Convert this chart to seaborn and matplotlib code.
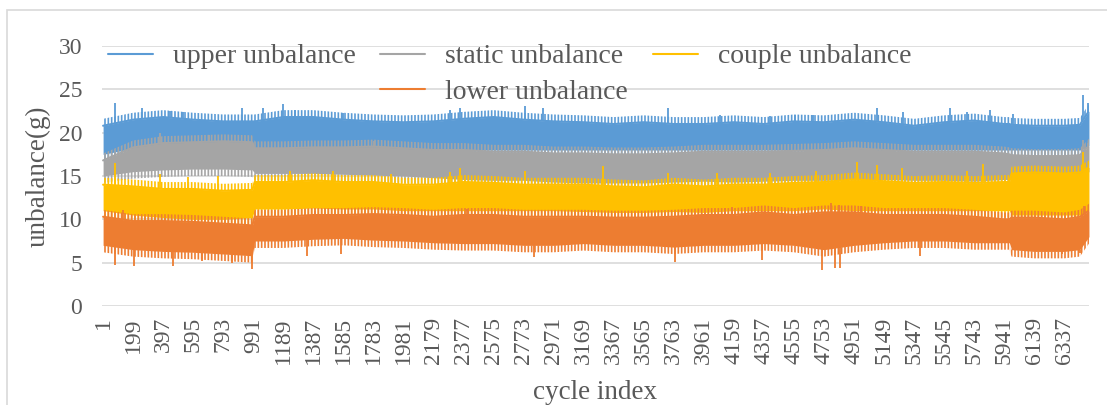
import numpy as np
import pandas as pd
import matplotlib
matplotlib.use("Agg")
import matplotlib.pyplot as plt
import seaborn as sns
from matplotlib.lines import Line2D
from matplotlib.patches import Rectangle

# envelope of each noisy series, read at the tick cycles (plus the step points)
cycle_pos = [1, 199, 397, 595, 793, 985, 1000, 1189, 1387, 1585, 1783, 1981, 2179,
             2377, 2575, 2773, 2971, 3169, 3367, 3565, 3763, 3961, 4159, 4357, 4555,
             4753, 4951, 5149, 5347, 5545, 5743, 5941, 5975, 5990, 6139, 6337, 6440, 6500]

upper_high = [20.8, 21.5, 21.8, 21.5, 21.3, 21.3, 21.3, 21.8, 21.8, 21.5, 21.3, 21.2, 21.3,
              21.6, 21.8, 21.5, 21.3, 21.2, 21.0, 21.2, 21.0, 21.0, 21.2, 21.0, 21.3,
              21.2, 21.5, 21.2, 20.8, 21.2, 21.4, 21.0, 21.0, 20.9, 20.8, 20.8, 20.9, 22.5]
upper_low = [17.5, 18.2, 18.2, 18.2, 18.2, 18.2, 18.0, 18.0, 18.0, 18.0, 18.0, 18.0, 18.0,
             18.0, 18.0, 18.0, 18.0, 18.0, 18.0, 18.0, 18.0, 18.0, 18.0, 18.0, 18.0,
             18.0, 18.0, 18.0, 18.0, 18.0, 18.0, 18.0, 18.0, 18.0, 18.0, 18.0, 18.0, 18.5]

static_high = [16.8, 18.3, 18.8, 18.9, 19.0, 18.9, 18.2, 18.2, 18.3, 18.3, 18.4, 18.2, 18.0,
               18.0, 17.8, 17.8, 17.6, 17.6, 17.5, 17.5, 17.6, 17.8, 17.8, 17.8, 17.9,
               18.0, 18.2, 18.0, 17.8, 17.8, 17.8, 17.6, 17.5, 17.4, 17.3, 17.3, 17.4, 18.5]
static_low = [15.0, 15.5, 15.7, 15.8, 15.8, 15.7, 15.3, 15.3, 15.3, 15.2, 15.1, 15.0, 14.8,
              14.6, 14.5, 14.5, 14.3, 14.2, 14.2, 14.2, 14.3, 14.4, 14.3, 14.4, 14.5,
              14.5, 14.6, 14.6, 14.5, 14.5, 14.4, 14.6, 14.6, 15.0, 15.0, 15.0, 15.0, 15.5]

couple_high = [14.0, 13.8, 13.5, 13.5, 13.3, 13.4, 14.3, 14.3, 14.5, 14.3, 14.3, 14.0, 14.0,
               14.3, 14.2, 14.0, 14.0, 14.0, 13.8, 13.7, 14.0, 13.8, 14.0, 14.0, 14.2,
               14.3, 14.6, 14.4, 14.2, 14.3, 14.2, 14.3, 14.3, 15.3, 15.4, 15.3, 15.4, 16.0]
couple_low = [11.0, 10.5, 10.2, 10.0, 10.0, 10.2, 11.2, 11.2, 11.3, 11.2, 11.2, 11.0, 11.0,
              11.0, 11.0, 11.0, 11.0, 10.9, 10.8, 10.8, 10.9, 10.8, 11.0, 11.0, 11.0,
              11.2, 11.0, 11.0, 11.0, 11.0, 11.0, 11.0, 11.0, 10.5, 10.5, 10.5, 10.5, 11.0]

lower_high = [10.3, 9.8, 9.8, 9.7, 9.5, 9.3, 10.3, 10.3, 10.5, 10.5, 10.6, 10.5, 10.3,
              10.5, 10.5, 10.3, 10.3, 10.3, 10.2, 10.2, 10.3, 10.5, 10.5, 10.8, 10.5,
              10.8, 10.8, 10.5, 10.5, 10.5, 10.3, 10.0, 10.0, 10.2, 10.2, 10.0, 10.3, 11.0]
lower_low = [7.0, 6.5, 6.3, 6.2, 6.0, 5.8, 7.5, 7.5, 7.7, 7.8, 7.6, 7.5, 7.3,
             7.2, 7.2, 7.0, 7.0, 7.2, 7.0, 7.0, 6.8, 7.0, 7.0, 7.2, 7.0,
             6.5, 7.0, 7.3, 7.5, 7.5, 7.3, 7.3, 7.3, 6.5, 6.3, 6.3, 6.5, 8.0]

# the tallest single spikes that stick out of each band
upper_spike_idx = [80, 258, 443, 528, 917, 1056, 1188, 1267, 1583, 2288, 2354, 2783, 2902,
                   3725, 4068, 4398, 4563, 4681, 5103, 5275, 5585, 5697, 5848, 6000, 6461, 6494]
upper_spike_val = [23.4, 22.8, 22.5, 22.4, 22.9, 22.8, 23.3, 22.6, 22.3, 22.6, 22.9, 23.1, 22.8,
                   22.9, 22.0, 21.9, 22.0, 22.0, 22.9, 22.4, 22.8, 22.4, 22.6, 22.1, 24.3, 23.4]
static_spike_idx = [376, 700, 1790, 6461, 6494]
static_spike_val = [20.0, 19.7, 19.0, 19.2, 18.8]
couple_spike_idx = [80, 376, 560, 760, 1234, 1517, 1900, 2288, 2354, 2783, 3297, 3725, 4050,
                    4400, 4700, 4971, 5103, 5268, 5697, 5802, 6461]
couple_spike_val = [16.5, 15.2, 14.9, 15.0, 15.6, 15.6, 15.2, 15.5, 15.9, 15.6, 16.1, 15.3, 15.4,
                    15.4, 15.6, 16.6, 16.3, 15.9, 15.6, 16.4, 17.8]
lower_spike_idx = [130, 1400, 2400, 4100, 4150, 4800, 4850, 5000, 6470]
lower_spike_val = [11.1, 11.0, 11.2, 11.3, 11.4, 11.9, 11.7, 11.5, 11.5]
lower_dip_idx = [80, 205, 463, 650, 850, 982, 1347, 1570, 2840, 3770, 4343, 4741, 4826,
                 4860, 5387, 6320, 6440]
lower_dip_val = [4.7, 4.6, 4.6, 5.2, 5.0, 4.3, 5.8, 6.0, 5.6, 5.1, 5.3, 4.1, 4.4,
                 4.4, 5.8, 6.0, 6.1]

series_names = ["upper unbalance", "static unbalance", "couple unbalance", "lower unbalance"]
series_colors = ["#5B9BD5", "#A5A5A5", "#FFC000", "#ED7D31"]

tick_cycles = list(range(1, 6500, 198))

sns.set_theme(style="whitegrid")
plt.rcParams["font.family"] = ["Liberation Serif", "DejaVu Serif"]
plt.rcParams["hatch.linewidth"] = 1.2
text_color = "#595959"
fringe = 0.8  # depth of the ragged edge, in y units

fig = plt.figure(figsize=(11.07, 4.05), dpi=100)
ax = fig.add_axes([0.0919, 0.2444, 0.8918, 0.642])

bands = [
    (upper_high, upper_low, upper_spike_idx, upper_spike_val),
    (static_high, static_low, static_spike_idx, static_spike_val),
    (couple_high, couple_low, couple_spike_idx, couple_spike_val),
    (lower_high, lower_low, lower_spike_idx, lower_spike_val),
]

for z, (name, color, (hi, lo, sp_i, sp_v)) in enumerate(zip(series_names, series_colors, bands)):
    zo = 2 + z
    hi = np.asarray(hi)
    lo = np.asarray(lo)
    ax.fill_between(cycle_pos, lo, hi, color=color, linewidth=0, zorder=zo)
    # ragged edges: thin vertical strokes above and below the dense core
    ax.fill_between(cycle_pos, hi, hi + fringe, facecolor="none", edgecolor=color,
                    hatch="|||||", linewidth=0, zorder=zo)
    ax.fill_between(cycle_pos, lo - fringe, lo, facecolor="none", edgecolor=color,
                    hatch="|||||", linewidth=0, zorder=zo)
    sns.lineplot(x=cycle_pos, y=hi, ax=ax, color=color, linewidth=1.5, zorder=zo, legend=False)
    base = np.interp(sp_i, cycle_pos, hi)
    ax.vlines(sp_i, base, sp_v, color=color, linewidth=1.3, zorder=zo)

base = np.interp(lower_dip_idx, cycle_pos, lower_low)
ax.vlines(lower_dip_idx, lower_dip_val, base, color=series_colors[3], linewidth=1.3, zorder=5)

ax.set_xlim(-8, 6500)
ax.set_ylim(0, 30)
ax.set_yticks(range(0, 31, 5))
ax.set_xticks(tick_cycles)
ax.set_xticklabels([str(c) for c in tick_cycles], rotation=90)
ax.grid(axis="y", color="#D9D9D9", linewidth=1.2)
ax.grid(axis="x", visible=False)
for s in ax.spines.values():
    s.set_visible(False)
ax.tick_params(axis="y", length=0, pad=14, labelsize=17, labelcolor=text_color)
ax.tick_params(axis="x", length=0, pad=8, labelsize=17, labelcolor=text_color)
ax.set_xlabel("cycle index", fontsize=19.5, color=text_color, labelpad=11)
ax.set_ylabel("unbalance(g)", fontsize=19.5, color=text_color, labelpad=6)

# legend: three columns, the fourth entry sits under the second one
blank = Line2D([], [], color="none")
h = [Line2D([], [], color=c, linewidth=1.5) for c in series_colors]
leg = ax.legend([h[0], blank, h[1], h[3], h[2], blank],
                [series_names[0], "", series_names[1], series_names[3], series_names[2], ""],
                ncol=3, frameon=False, fontsize=20, labelcolor=text_color,
                handlelength=1.62, handletextpad=0.72, columnspacing=0.88,
                labelspacing=0.36, borderpad=0, borderaxespad=0,
                loc="upper left", bbox_to_anchor=(108 / 1107, 1 - 44 / 405),
                bbox_transform=fig.transFigure)
leg.set_zorder(10)

fig.patches.append(Rectangle((7 / 1107, -0.1), 1.2, 1.1 - 10 / 405,
                             transform=fig.transFigure, fill=False,
                             edgecolor="#D9D9D9", linewidth=1.2))

fig.savefig("out.png", dpi=100, facecolor="white")
